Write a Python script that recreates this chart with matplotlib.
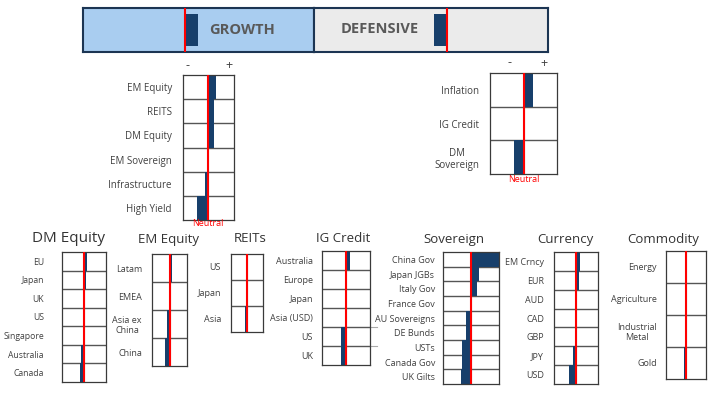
import matplotlib
matplotlib.use("Agg")
import matplotlib.pyplot as plt

W, H = 714, 397
plt.rcParams['font.family'] = ['Open Sans', 'DejaVu Sans']

navy = '#173f6b'
red = '#ff0000'
txt = '#404040'

# top banner: tilt of growth vs defensive
banner_labels = ['GROWTH', 'DEFENSIVE']
banner_tilt = [0.25, -0.25]

growth_labels = ['EM Equity', 'REITS', 'DM Equity', 'EM Sovereign', 'Infrastructure', 'High Yield']
growth_vals = [0.28, 0.2, 0.2, -0.05, -0.12, -0.45]

defensive_labels = ['Inflation', 'IG Credit', 'DM\nSovereign']
defensive_vals = [0.27, 0.0, -0.27]

dm_eq_labels = ['EU', 'Japan', 'UK', 'US', 'Singapore', 'Australia', 'Canada']
dm_eq_vals = [0.14, 0.08, 0.03, 0.0, -0.03, -0.14, -0.2]

em_eq_labels = ['Latam', 'EMEA', 'Asia ex\nChina', 'China']
em_eq_vals = [0.15, 0.05, -0.15, -0.25]

reits_labels = ['US', 'Japan', 'Asia']
reits_vals = [0.0, 0.0, -0.12]

ig_labels = ['Australia', 'Europe', 'Japan', 'Asia (USD)', 'US', 'UK']
ig_vals = [0.17, 0.06, 0.02, 0.0, -0.2, -0.2]

sov_labels = ['China Gov', 'Japan JGBs', 'Italy Gov', 'France Gov', 'AU Sovereigns',
              'DE Bunds', 'USTs', 'Canada Gov', 'UK Gilts']
sov_vals = [1.0, 0.29, 0.2, 0.0, -0.18, -0.18, -0.31, -0.31, -0.37]

ccy_labels = ['EM Crncy', 'EUR', 'AUD', 'CAD', 'GBP', 'JPY', 'USD']
ccy_vals = [0.18, 0.12, 0.0, 0.0, 0.0, -0.12, -0.32]

cmd_labels = ['Energy', 'Agriculture', 'Industrial\nMetal', 'Gold']
cmd_vals = [0.03, 0.0, 0.0, -0.1]

fig = plt.figure(figsize=(W / 100, H / 100), dpi=100)


def px_axes(x0, y0, x1, y1):
    return fig.add_axes([x0 / W, 1 - y1 / H, (x1 - x0) / W, (y1 - y0) / H])


def ftext(x, y, s, **kw):
    fig.text(x / W, 1 - y / H, s, **kw)


def panel(box, labels, vals, pad=10, fs=6.5):
    ax = px_axes(*box)
    n = len(labels)
    pos = list(range(n))
    ax.barh(pos, vals, height=1.0, color=navy, zorder=2)
    ax.set_xlim(-1, 1)
    ax.set_ylim(n - 0.5, -0.5)
    for i in range(n - 1):
        ax.axhline(i + 0.5, color='#555555', lw=1.0, zorder=1)
    ax.axvline(0, color='#999999', lw=0.8, zorder=1)
    ax.axvline(0, color=red, lw=1.5, zorder=3)
    ax.set_yticks(pos)
    ax.set_yticklabels(labels, fontsize=fs, color=txt)
    for t in ax.get_yticklabels():
        t.set_multialignment('center')
    ax.tick_params(axis='y', length=0, pad=pad * 0.72)
    ax.set_xticks([])
    for sp in ax.spines.values():
        sp.set_color('#3a3a3a')
        sp.set_linewidth(0.9)
    return ax


# banner
banner_boxes = [(83, 8, 314, 52), (314, 8, 548, 52)]
banner_lims = [(-1.96, 2.48), (-2.56, 1.94)]
banner_fill = ['#a9cdf0', '#ebebeb']
for box, lim, fc, v in zip(banner_boxes, banner_lims, banner_fill, banner_tilt):
    ax = px_axes(*box)
    ax.set_facecolor(fc)
    ax.barh(0.5, v, height=0.73, color=navy, zorder=2)
    ax.axvline(0, color=red, lw=1.5, zorder=3)
    ax.set_xlim(*lim)
    ax.set_ylim(0, 1)
    ax.set_xticks([])
    ax.set_yticks([])
    for sp in ax.spines.values():
        sp.set_color('#1c3553')
        sp.set_linewidth(1.5)
ftext(242, 30, banner_labels[0], fontsize=10.5, fontweight='bold', color='#595959', ha='center', va='center')
ftext(380, 29, banner_labels[1], fontsize=10.5, fontweight='bold', color='#595959', ha='center', va='center')

# growth / defensive detail
panel((183, 75, 234, 220), growth_labels, growth_vals, pad=11, fs=7)
ftext(188, 66, '-', fontsize=9, color=txt, ha='center', va='center')
ftext(229, 66, '+', fontsize=9, color=txt, ha='center', va='center')
ftext(208, 223, 'Neutral', fontsize=6.5, color=red, ha='center', va='center')

panel((490, 73, 557, 174), defensive_labels, defensive_vals, pad=11, fs=7)
ftext(510, 63, '-', fontsize=9, color=txt, ha='center', va='center')
ftext(544, 63, '+', fontsize=9, color=txt, ha='center', va='center')
ftext(524, 180, 'Neutral', fontsize=6.5, color=red, ha='center', va='center')

# bottom row
panel((62, 252, 106, 382), dm_eq_labels, dm_eq_vals, pad=18, fs=6.2)
panel((152, 254, 187, 366), em_eq_labels, em_eq_vals, pad=10)
panel((231, 254, 263, 332), reits_labels, reits_vals, pad=10)
ax_ig = panel((322, 251, 370, 365), ig_labels, ig_vals, pad=9)
for yy in (3.5, 4.5):
    ax_ig.plot([1, 1.3], [yy, yy], color='#aaaaaa', lw=0.8, clip_on=False)
panel((443, 252, 499, 384), sov_labels, sov_vals, pad=8)
panel((554, 252, 598, 384), ccy_labels, ccy_vals, pad=10)
panel((666, 251, 706, 379), cmd_labels, cmd_vals, pad=9)

titles = ['DM Equity', 'EM Equity', 'REITs', 'IG Credit', 'Sovereign', 'Currency', 'Commodity']
title_x = [68, 168, 250, 343, 454, 565, 663]
title_fs = [11, 9.5, 9.5, 9.5, 9.5, 9.5, 9.5]
for t, x, s in zip(titles, title_x, title_fs):
    ftext(x, 239, t, fontsize=s, color='#333333', ha='center', va='center')

fig.savefig('out.png', dpi=100)
